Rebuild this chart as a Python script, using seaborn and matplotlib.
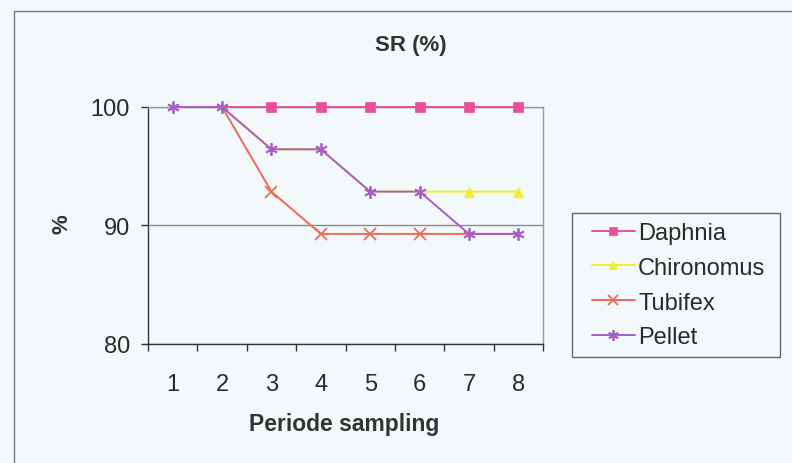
import matplotlib
matplotlib.use("Agg")
import matplotlib.pyplot as plt
from matplotlib.lines import Line2D
from matplotlib.patches import Rectangle
import seaborn as sns
import pandas as pd

periods = [1, 2, 3, 4, 5, 6, 7, 8]
daphnia = [100, 100, 100, 100, 100, 100, 100, 100]
chironomus = [100, 100, 96.43, 96.43, 92.86, 92.86, 92.86, 92.86]
tubifex = [100, 100, 92.86, 89.29, 89.29, 89.29, 89.29, 89.29]
pellet = [100, 100, 96.43, 96.43, 92.86, 92.86, 89.29, 89.29]
series_names = ["Daphnia", "Chironomus", "Tubifex", "Pellet"]
y_ticks = [80, 90, 100]

sns.set_theme(style="white")
plt.rcParams['font.family'] = ['Liberation Sans', 'DejaVu Sans']

bg = "#f3f9fa"
W, H = 792, 464
fig = plt.figure(figsize=(7.92, 4.64), dpi=100, facecolor=bg)
ax = fig.add_axes([148/W, 1-345/H, (543-148)/W, (345-108)/H])
ax.set_facecolor(bg)

styles = {
    "Daphnia": dict(color="#e8509a", marker="s", ms=7, mew=0.5, markevery=[2, 3, 4, 5, 6, 7]),
    "Chironomus": dict(color="#f2ee2a", marker="^", ms=7, mew=0.5, markevery=[6, 7]),
    "Tubifex": dict(color="#f06a5a", marker="x", ms=8, mew=1.3, markevery=[2, 3, 4, 5]),
    "Pellet": dict(color="#a660c4", marker=(6, 2, 0), ms=9, mew=1.3),
}
data = [daphnia, chironomus, tubifex, pellet]
handles = []
for name, vals in zip(series_names, data):
    st = styles[name]
    df = pd.DataFrame({"x": periods, "y": vals})
    sns.lineplot(data=df, x="x", y="y", ax=ax, color=st["color"], lw=1.4,
                 marker=st["marker"], markersize=st["ms"], markeredgewidth=st["mew"],
                 markeredgecolor=st["color"], markerfacecolor=st["color"],
                 markevery=st.get("markevery", None), legend=False,
                 clip_on=False, zorder=3)
    handles.append(Line2D([], [], color=st["color"], lw=1.4, marker=st["marker"],
                          markersize=st["ms"] * 0.85, markeredgewidth=st["mew"],
                          markeredgecolor=st["color"], markerfacecolor=st["color"]))

ax.set_xlim(0.5, 8.5)
ax.set_ylim(80, 100)
ax.set_yticks(y_ticks)
ax.set_xticks(periods)
ax.set_xticklabels([str(p) for p in periods])
ax.set_xticks([p - 0.5 for p in periods] + [8.5], minor=True)
ax.tick_params(axis="x", which="major", length=0, labelsize=17, pad=21, labelcolor="#2a2a2a")
ax.tick_params(axis="x", which="minor", length=5, width=1, color="#333333", direction="out", bottom=True)
ax.tick_params(axis="y", which="major", length=5, width=1, color="#333333", direction="out",
               labelsize=17, pad=8, left=True, labelcolor="#2a2a2a")
ax.yaxis.grid(True, color="#8a8a8a", lw=1)
ax.set_axisbelow(True)
for s in ["left", "bottom"]:
    ax.spines[s].set_color("#333333")
    ax.spines[s].set_linewidth(1)
for s in ["top", "right"]:
    ax.spines[s].set_color("#9a9a9a")
    ax.spines[s].set_linewidth(1)
ax.set_xlabel("")
ax.set_ylabel("")

fig.text(411/W, 1-45/H, "SR (%)", ha="center", va="center", fontsize=16,
         fontweight="bold", color="#333333")
fig.text(62/W, 1-224/H, "%", ha="center", va="center", rotation=90, fontsize=16,
         fontweight="bold", color="#333333")
fig.text(344/W, 1-424/H, "Periode sampling", ha="center", va="center", fontsize=16.5,
         fontweight="bold", color="#333333")

# legend box
fig.add_artist(Rectangle((572/W, 1-358/H), (780-572)/W, (358-214)/H, transform=fig.transFigure,
                         facecolor=bg, edgecolor="#666666", lw=1, zorder=4))
leg = fig.legend(handles, series_names, loc="upper left",
                 bbox_to_anchor=(592/W, 1-223/H), bbox_transform=fig.transFigure,
                 fontsize=17, frameon=False, handlelength=1.8,
                 handletextpad=0.15, labelspacing=0.54, borderpad=0, borderaxespad=0)
leg.set_zorder(5)
for t in leg.get_texts():
    t.set_color("#2a2a2a")

# outer chart border
fig.add_artist(Line2D([14/W, 1], [1-12/H, 1-12/H], transform=fig.transFigure,
                      color="#777777", lw=1))
fig.add_artist(Line2D([14/W, 14/W], [0, 1-12/H], transform=fig.transFigure,
                      color="#777777", lw=1))

fig.savefig("out.png", dpi=100, facecolor=bg)
